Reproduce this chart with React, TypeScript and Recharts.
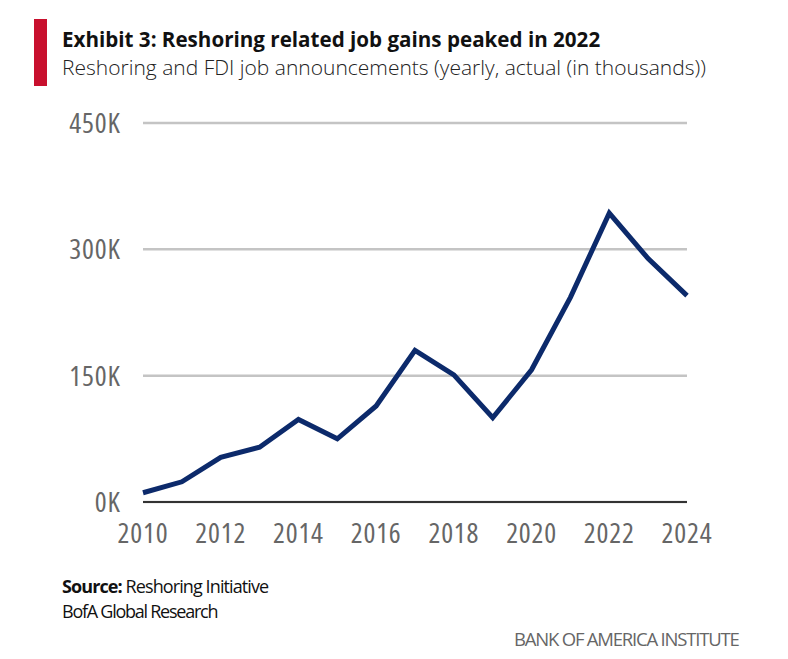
import React from 'react';
import { LineChart, Line, XAxis, YAxis, CartesianGrid } from 'recharts';

const years = [2010, 2011, 2012, 2013, 2014, 2015, 2016, 2017, 2018, 2019, 2020, 2021, 2022, 2023, 2024];
const jobs = [11000, 24000, 53000, 65000, 98000, 75000, 114000, 180000, 151000, 100000, 157000, 243000, 343000, 289000, 245000];
const yTicks = [0, 150000, 300000, 450000];
const xTicks = [2010, 2012, 2014, 2016, 2018, 2020, 2022, 2024];

const data = years.map((y, i) => ({ year: y, jobs: jobs[i] }));

const FONT = '"Open Sans", sans-serif';
const SEMI = '90%';
const tickStyle = { fontStretch: '75%', letterSpacing: '0.8px' };

export default function App() {
  return (
    <div style={{ position: 'absolute', left: 0, top: 0, width: 788, height: 659, background: '#fff', fontFamily: FONT }}>
      <div style={{ position: 'absolute', left: 34, top: 19, width: 13, height: 67, background: '#c8102e' }} />
      <div style={{ position: 'absolute', left: 62, top: 29, fontSize: 20.6, lineHeight: '20.6px', fontWeight: 700, fontStretch: SEMI, color: '#111', whiteSpace: 'nowrap' }}>
        Exhibit 3: Reshoring related job gains peaked in 2022
      </div>
      <div style={{ position: 'absolute', left: 62, top: 57.3, fontSize: 21, lineHeight: '21px', fontWeight: 300, fontStretch: SEMI, color: '#222', whiteSpace: 'nowrap' }}>
        Reshoring and FDI job announcements (yearly, actual (in thousands))
      </div>
      <div style={{ position: 'absolute', left: 0, top: 0 }}>
        <LineChart width={788} height={560} data={data} margin={{ top: 123, right: 101, bottom: 18, left: 0 }}>
          <CartesianGrid horizontal vertical={false} stroke="#c4c4c4" strokeWidth={2.5} />
          <XAxis
            dataKey="year"
            type="number"
            domain={[2010, 2024]}
            ticks={xTicks}
            height={40}
            tickSize={0}
            tickMargin={21.5}
            axisLine={{ stroke: '#333', strokeWidth: 2 }}
            tick={{ fill: '#666', fontSize: 28, fontFamily: FONT, style: tickStyle }}
            interval={0}
          />
          <YAxis
            type="number"
            domain={[0, 450000]}
            ticks={yTicks}
            width={143}
            tickSize={0}
            tickMargin={22.5}
            axisLine={false}
            tickFormatter={(v: number) => `${v / 1000}K`}
            tick={{ fill: '#666', fontSize: 28, fontFamily: FONT, style: tickStyle }}
            interval={0}
          />
          <Line type="linear" dataKey="jobs" stroke="#0c2a6b" strokeWidth={5} dot={false} isAnimationActive={false} />
        </LineChart>
      </div>
      <div style={{ position: 'absolute', left: 62, top: 577, fontSize: 18, lineHeight: '18px', fontStretch: SEMI, letterSpacing: '-0.9px', color: '#111', whiteSpace: 'nowrap' }}>
        <b>Source:</b> Reshoring Initiative
      </div>
      <div style={{ position: 'absolute', left: 62, top: 602, fontSize: 18, lineHeight: '18px', fontStretch: SEMI, letterSpacing: '-1.25px', color: '#111', whiteSpace: 'nowrap' }}>
        BofA Global Research
      </div>
      <div style={{ position: 'absolute', left: 514, top: 630, fontSize: 18.5, lineHeight: '18.5px', fontStretch: SEMI, letterSpacing: '-1.2px', color: '#666', whiteSpace: 'nowrap' }}>
        BANK OF AMERICA INSTITUTE
      </div>
    </div>
  );
}
